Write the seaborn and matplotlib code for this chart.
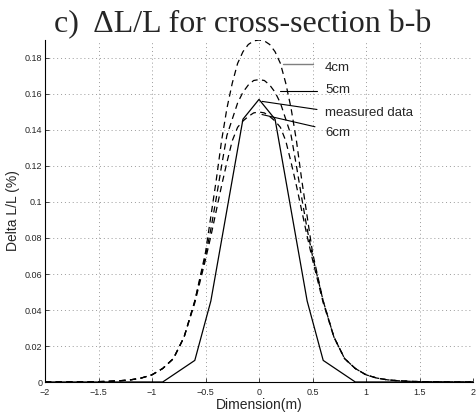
import numpy as np
import pandas as pd
import matplotlib
matplotlib.use("Agg")
import matplotlib.pyplot as plt
import seaborn as sns

# ---------------- data ----------------
x_model = [-2.0, -1.9, -1.8, -1.7, -1.6, -1.5, -1.4, -1.3, -1.2, -1.1,
           -1.0, -0.9, -0.8, -0.7, -0.6,
           -0.5, -0.45, -0.4, -0.35, -0.3, -0.25, -0.2, -0.15, -0.1, -0.05,
           0.0,
           0.05, 0.1, 0.15, 0.2, 0.25, 0.3, 0.35, 0.4, 0.45, 0.5,
           0.6, 0.7, 0.8, 0.9, 1.0, 1.1, 1.2, 1.3, 1.4, 1.5, 1.6, 1.7, 1.8, 1.9, 2.0]
y_4cm = [0.0, 0.0, 0.0, 0.0001, 0.0001, 0.0002, 0.0004, 0.0007, 0.0012, 0.0022,
         0.004, 0.0075, 0.013, 0.025, 0.045,
         0.072, 0.092, 0.112, 0.134, 0.152, 0.166, 0.177, 0.1835, 0.1875, 0.1895,
         0.190,
         0.1895, 0.1875, 0.1835, 0.177, 0.166, 0.152, 0.134, 0.112, 0.092, 0.072,
         0.045, 0.025, 0.013, 0.0075, 0.004, 0.0022, 0.0012, 0.0007, 0.0004, 0.0002,
         0.0001, 0.0001, 0.0, 0.0, 0.0]
y_5cm = [0.0, 0.0, 0.0, 0.0001, 0.0001, 0.0002, 0.0004, 0.0007, 0.0012, 0.0022,
         0.004, 0.0075, 0.013, 0.025, 0.045,
         0.070, 0.085, 0.102, 0.120, 0.137, 0.146, 0.155, 0.161, 0.165, 0.1675,
         0.168,
         0.1675, 0.165, 0.161, 0.155, 0.146, 0.137, 0.120, 0.102, 0.085, 0.070,
         0.045, 0.025, 0.013, 0.0075, 0.004, 0.0022, 0.0012, 0.0007, 0.0004, 0.0002,
         0.0001, 0.0001, 0.0, 0.0, 0.0]
y_6cm = [0.0, 0.0, 0.0, 0.0001, 0.0001, 0.0002, 0.0004, 0.0007, 0.0012, 0.0022,
         0.004, 0.0075, 0.013, 0.025, 0.044,
         0.068, 0.081, 0.095, 0.109, 0.122, 0.134, 0.1415, 0.145, 0.1475, 0.1495,
         0.150,
         0.1495, 0.1475, 0.145, 0.1415, 0.134, 0.122, 0.109, 0.095, 0.081, 0.068,
         0.044, 0.025, 0.013, 0.0075, 0.004, 0.0022, 0.0012, 0.0007, 0.0004, 0.0002,
         0.0001, 0.0001, 0.0, 0.0, 0.0]

x_meas = [-2.0, -0.9, -0.6, -0.45, -0.15, 0.0, 0.15, 0.45, 0.6, 0.9, 2.0]
y_meas = [0.0, 0.0, 0.012, 0.045, 0.146, 0.157, 0.146, 0.045, 0.012, 0.0, 0.0]

x_ticks = [-2, -1.5, -1, -0.5, 0, 0.5, 1, 1.5, 2]
x_ticklabels = ["\u22122", "\u22121.5", "\u22121", "\u22120.5", "0", "0.5", "1", "1.5", "2"]
y_ticks = [0, 0.02, 0.04, 0.06, 0.08, 0.1, 0.12, 0.14, 0.16, 0.18]
y_ticklabels = ["0", "0.02", "0.04", "0.06", "0.08", "0.1", "0.12", "0.14", "0.16", "0.18"]

labels = ["4cm", "5cm", "measured data", "6cm"]
label_pos = [(0.617, 0.1746), (0.617, 0.1620), (0.617, 0.1497), (0.617, 0.1384)]
leader_start = [(0.224, 0.1768), (0.196, 0.1616), (0.028, 0.1559), (0.028, 0.1486)]
leader_end = [(0.505, 0.1768), (0.542, 0.1616), (0.542, 0.1514), (0.523, 0.1418)]
leader_colors = ["#7f7f7f", "black", "black", "black"]

title = "c)  \u0394L/L for cross-section b-b"

# ---------------- plot ----------------
sns.set_style("white")
plt.rcParams["font.family"] = ["Liberation Sans", "DejaVu Sans"]

fig = plt.figure(figsize=(4.77, 4.13), dpi=100)
ax = fig.add_axes([45 / 477, 1 - 382 / 413, 428 / 477, 342 / 413])

df_model = pd.DataFrame({"x": x_model, "4cm": y_4cm, "5cm": y_5cm, "6cm": y_6cm})
for col in ["4cm", "5cm", "6cm"]:
    sns.lineplot(data=df_model, x="x", y=col, ax=ax, color="black",
                 linewidth=0.9, linestyle=(0, (5, 3.5)), estimator=None, sort=False)
df_meas = pd.DataFrame({"x": x_meas, "y": y_meas})
sns.lineplot(data=df_meas, x="x", y="y", ax=ax, color="black", linewidth=0.9,
             estimator=None, sort=False)

for (lx, ly), (sx, sy), (ex, ey), c, t in zip(label_pos, leader_start, leader_end,
                                             leader_colors, labels):
    ax.plot([sx, ex], [sy, ey], color=c, linewidth=1.0 if c != "black" else 0.8)
    ax.text(lx, ly, t, fontsize=9.5, va="center", ha="left")

ax.set_xlim(-2, 2)
ax.set_ylim(0, 0.19)
ax.set_xticks(x_ticks)
ax.set_xticklabels(x_ticklabels)
ax.set_yticks(y_ticks)
ax.set_yticklabels(y_ticklabels)
ax.tick_params(direction="in", length=3, width=0.6, labelsize=6.5,
               bottom=True, left=True)
ax.tick_params(axis="x", pad=4)
ax.tick_params(axis="y", pad=2)
ax.grid(True, linestyle=(0, (1, 3)), color="#9a9a9a", linewidth=0.7)
for s in ["top", "right"]:
    ax.spines[s].set_visible(False)
for s in ["left", "bottom"]:
    ax.spines[s].set_color("black")
    ax.spines[s].set_linewidth(0.8)

ax.set_xlabel("Dimension(m)", fontsize=10)
ax.set_ylabel("Delta L/L (%)", fontsize=10)
ax.xaxis.set_label_coords(0.5, -0.047)
ax.yaxis.set_label_coords(-0.058, 0.5)

fig.text(243 / 477, 1 - 25 / 413, title, fontsize=23, ha="center", va="center",
         family=["Liberation Serif", "DejaVu Serif"])

fig.savefig("out.png", dpi=100)
